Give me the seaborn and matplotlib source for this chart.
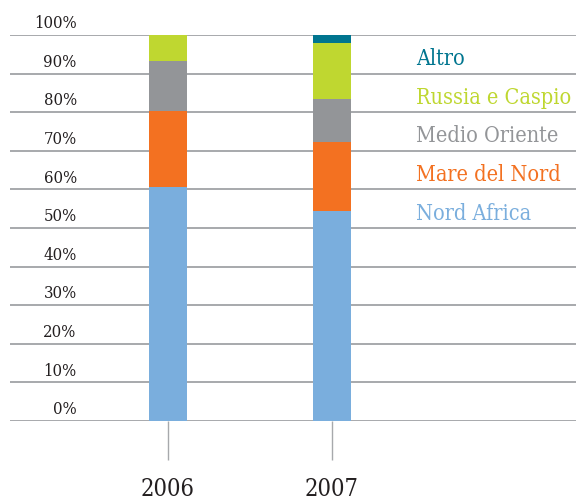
import seaborn as sns
import matplotlib.pyplot as plt
import matplotlib.transforms as mtransforms
import numpy as np
import pandas as pd

years = ["2006", "2007"]
series = ["Nord Africa", "Mare del Nord", "Medio Oriente", "Russia e Caspio", "Altro"]
nord_africa = [60.5, 54.5]
mare_del_nord = [19.9, 17.9]
medio_oriente = [12.9, 11.1]
russia_caspio = [6.7, 14.4]
altro = [0.0, 2.1]
colors = ["#7AAEDD", "#F37121", "#939598", "#BFD730", "#00758F"]
yticks = [0, 10, 20, 30, 40, 50, 60, 70, 80, 90, 100]

values = np.array([nord_africa, mare_del_nord, medio_oriente, russia_caspio, altro])
cum = values.cumsum(axis=0)

sns.set_style("white")
serif = {"family": "DejaVu Serif", "stretch": "condensed"}
grid_col = "#A7A9AC"

fig = plt.figure(figsize=(5.76, 5.02), dpi=100)
ax = fig.add_axes([10 / 576, 80 / 502, 566 / 576, 386 / 502])

# stacked bars: draw cumulative totals from top layer down
for i in range(len(series) - 1, -1, -1):
    df = pd.DataFrame({"year": years, "val": cum[i]})
    sns.barplot(data=df, x="year", y="val", order=years, color=colors[i],
                width=0.232, saturation=1, ax=ax, zorder=3, linewidth=0)

ax.set_xlim(-0.963, 2.488)
ax.set_ylim(0, 100)
for s in ax.spines.values():
    s.set_visible(False)

for t in yticks:
    ax.axhline(t, color=grid_col, lw=1.4, zorder=2)

ax.set_yticks([])
ax.set_ylabel("")
ax.set_xlabel("")
ax.tick_params(axis="x", length=28, width=1, color=grid_col, pad=12, direction="out")
ax.xaxis.set_ticks_position("bottom")
for lab in ax.get_xticklabels():
    lab.set_fontfamily("DejaVu Serif")
    lab.set_fontstretch("condensed")
    lab.set_fontsize(17)
    lab.set_color("#231F20")

trans = mtransforms.blended_transform_factory(ax.transAxes, ax.transData)
for t in yticks:
    ax.text(0.118, t + 3.2, f"{t}%", transform=trans, ha="right", va="center",
            fontsize=12, color="#231F20", clip_on=False, **serif)

# legend as coloured labels
for i, name in enumerate(series):
    ypos = 55 + 10 * i - 1.0
    ax.text(0.718, ypos, name, transform=trans, ha="left", va="center",
            fontsize=15.5, color=colors[i], **serif)

fig.savefig("out.png", dpi=100)
